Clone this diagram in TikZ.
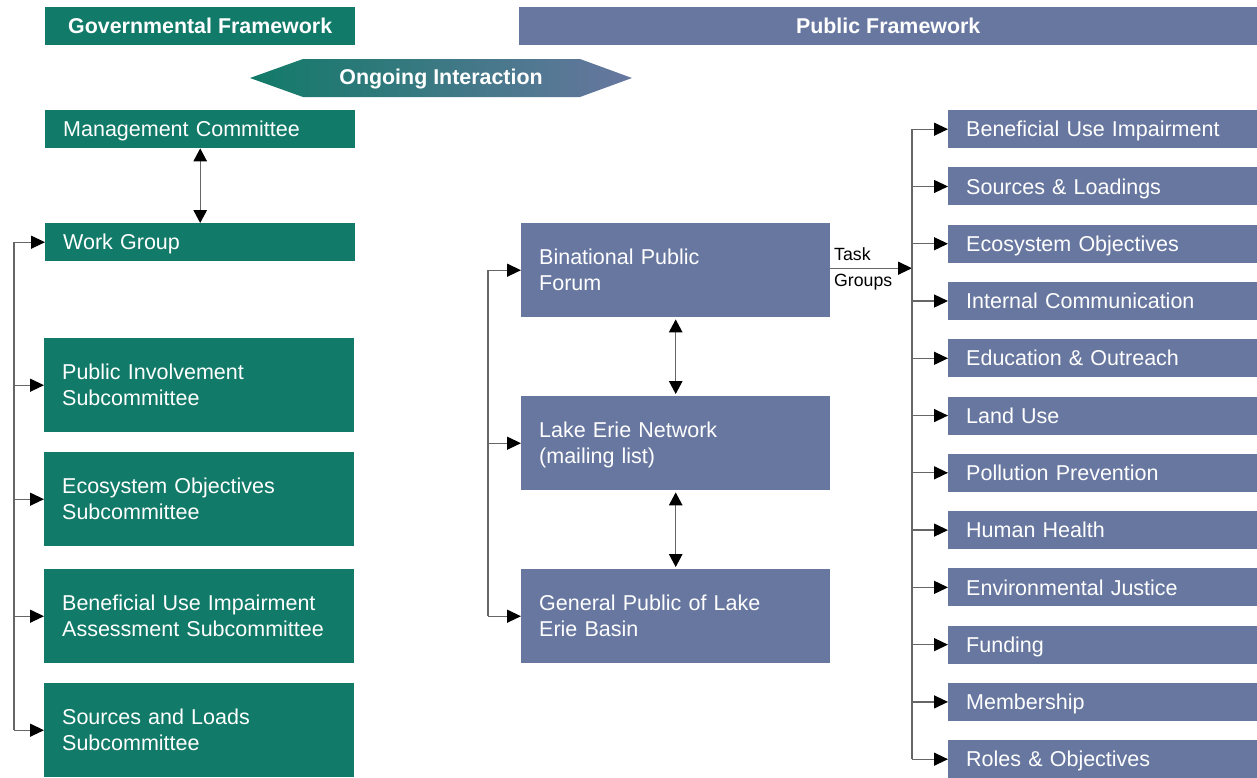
\documentclass[tikz,border=0pt]{standalone}
\usepackage{fontspec}
\setmainfont{Liberation Sans}
\usetikzlibrary{arrows.meta}
\definecolor{gov}{RGB}{17,122,104}
\definecolor{pub}{RGB}{104,119,160}
\tikzset{
 box/.style={rectangle, anchor=north west, inner xsep=18pt, inner ysep=0pt, text=white, align=left, font=\fontsize{21.5pt}{26pt}\selectfont, minimum height=38pt,
   execute at begin node={\rule{0pt}{20pt}}, execute at end node={\rule[-4.6pt]{0pt}{1pt}}},
 gbox/.style={box, fill=gov, text width=274pt},
 pbox/.style={box, fill=pub, text width=273pt},
 tall/.style={minimum height=94pt},
 hdr/.style={rectangle, anchor=north west, inner sep=0pt, text=white, font=\fontsize{21.4pt}{25pt}\selectfont\bfseries, minimum height=38pt},
 conn/.style={draw=black!60, line width=1.3pt, -{Triangle[length=14pt,width=13pt,color=black]}},
 dconn/.style={draw=black!60, line width=1.3pt, {Triangle[length=13pt,width=13.5pt,color=black]}-{Triangle[length=13pt,width=13.5pt,color=black]}},
 trunk/.style={draw=black!60, line width=1.3pt},
}
\begin{document}
\begin{tikzpicture}[x=1pt,y=-1pt]
\useasboundingbox (0,0) rectangle (1257,777);
% headers
\node[hdr, fill=gov, minimum width=310pt] (gf) at (45,7) {Governmental Framework};
\node[hdr, fill=pub, minimum width=738pt] (pf) at (519,7) {Public Framework};
% ongoing interaction
\shade[left color=gov, right color=pub] (250,78) -- (303,59) -- (580,59) -- (632,78) -- (580,97) -- (303,97) -- cycle;
\node[text=white, font=\fontsize{21.4pt}{25pt}\selectfont\bfseries] (oi) at (441,79) {Ongoing Interaction};
% governmental boxes
\node[gbox] (mc) at (45,110) {Management Committee};
\node[gbox] (wg) at (45,223) {Work Group};
\node[gbox, tall] (pi) at (44,338) {Public Involvement\\Subcommittee};
\node[gbox, tall] (eo) at (44,452) {Ecosystem Objectives\\Subcommittee};
\node[gbox, tall] (bu) at (44,569) {Beneficial Use Impairment\\Assessment Subcommittee};
\node[gbox, tall] (sl) at (44,683) {Sources and Loads\\Subcommittee};
% public boxes
\node[pbox, tall] (bpf) at (521,223) {Binational Public\\Forum};
\node[pbox, tall] (len) at (521,396) {Lake Erie Network\\(mailing list)};
\node[pbox, tall] (gp) at (521,569) {General Public of Lake\\Erie Basin};
% task group boxes
\foreach \i/\t in {0/Beneficial Use Impairment, 1/Sources \& Loadings, 2/Ecosystem Objectives, 3/Internal Communication, 4/Education \& Outreach, 5/Land Use, 6/Pollution Prevention, 7/Human Health, 8/Environmental Justice, 9/Funding, 10/Membership, 11/Roles \& Objectives}
  \node[pbox] (r\i) at (948,{110+57.27*\i}) {\t};
% connectors left
\coordinate (lx) at (14,0);
\draw[trunk] (lx |- wg.west) -- (lx |- sl.west);
\foreach \n in {wg,pi,eo,bu,sl} \draw[conn] (lx |- \n.west) -- (\n.west);
\draw[dconn] (mc.south) -- (wg.north);
% connectors middle
\coordinate (mx) at (488,0);
\draw[trunk] (mx |- bpf.west) -- (mx |- gp.west);
\foreach \n in {bpf,len,gp} \draw[conn] (mx |- \n.west) -- (\n.west);
\draw[dconn, shorten <=2pt, shorten >=2pt] (bpf.south) -- (len.north);
\draw[dconn, shorten <=2pt, shorten >=2pt] (len.south) -- (gp.north);
% task groups
\coordinate (rx) at (912,0);
\coordinate (tg) at ([yshift=2pt]bpf.east);
\coordinate (tgend) at (rx |- tg);
\draw[conn] (tg) -- (tgend);
\node[anchor=west, align=left, inner sep=0pt, font=\fontsize{17.7pt}{26pt}\selectfont] (tgl) at (834,269) {Task\\Groups};
\draw[trunk] (rx |- r0.west) -- (rx |- r11.west);
\foreach \i in {0,...,11} \draw[conn] (rx |- r\i.west) -- (r\i.west);
\end{tikzpicture}
\end{document}
